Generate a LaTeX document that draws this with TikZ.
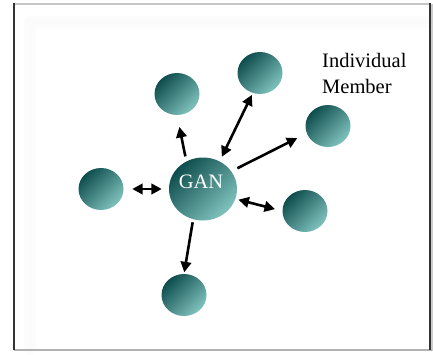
\documentclass[tikz,border=0pt]{standalone}
\usepackage{fontspec}
\setmainfont{Liberation Serif}
\usetikzlibrary{shapes.geometric,arrows.meta}
\definecolor{tealdark}{RGB}{14,77,77}
\definecolor{teallight}{RGB}{128,195,190}
\tikzset{
  member/.style={ellipse, draw=none, inner sep=0pt, minimum width=45pt, minimum height=42pt,
    top color=tealdark, bottom color=teallight, shading angle=45},
  hub/.style={member, minimum width=68pt, minimum height=63pt},
  link/.style={line width=2.6pt, black},
  >={Triangle[length=10.5pt,width=10.5pt]},
  lbl/.style={inner sep=0pt, font=\fontsize{20.5}{24}\selectfont},
  glow/.style={line cap=round},
}
\begin{document}
\begin{tikzpicture}[x=1pt,y=1pt]
\useasboundingbox (0,0) rectangle (433,354);
% soft inner shadow
\draw[glow, line width=12pt, gray!2] (30,330) -- (30,5) (30,332) -- (430,332);
\draw[glow, line width=5pt, gray!3] (30,330) -- (30,5) (30,332) -- (430,332);
% frame
\draw[line width=2pt, gray!40] (431.5,3) -- (431.5,350);
\draw[line width=1.2pt, gray!45] (14,350) -- (430,350);
\draw[line width=2pt, gray!60] (14,4.5) -- (432,4.5);
\draw[line width=1.3pt, black!80] (14,350.5) -- (14,4);
\draw[line width=1.3pt, black!80] (430,350.5) -- (430,4);
% nodes
\node[hub] (gan) at (203,165) {};
\node[lbl, text=white, anchor=base] (gantxt) at (201,166) {GAN};
\node[member] (tl) at (177,260) {};
\node[member] (top) at (260,281) {};
\node[member] (rt) at (328,228) {};
\node[member] (lf) at (101,165) {};
\node[member] (rg) at (305,143) {};
\node[member] (bt) at (184,59) {};
\node[lbl, anchor=base west] (lab1) at (322,286) {Individual};
\node[lbl, anchor=base west] (lab2) at (322,260) {Member};
% connectors
\draw[link, ->, shorten <=5pt, shorten >=12pt] (gan.121) -- (tl.south);
\draw[link, <->, shorten <=5pt, shorten >=2pt] (gan.59) -- (top.250);
\draw[link, ->, shorten <=6.7pt, shorten >=10.5pt] (gan.32) -- (rt.199.5);
\draw[link, <->, shorten <=8.5pt, shorten >=7pt] (lf.east) -- (gan.west);
\draw[link, <->, shorten <=3pt, shorten >=7.5pt] (gan.-17) -- (rg.west);
\draw[link, ->, shorten <=3pt, shorten >=1.5pt] (gan.252) -- (bt.north);
\end{tikzpicture}
\end{document}
